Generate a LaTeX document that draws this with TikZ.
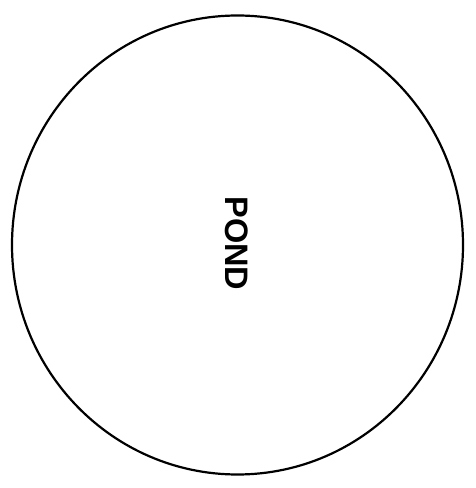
\documentclass[tikz,border=0pt]{standalone}
\usepackage{fontspec}
\setmainfont{Liberation Sans}
\usepackage{tikz}

\begin{document}
\begin{tikzpicture}[x=1pt, y=1pt]
	\def\W{476}
	\def\H{488}
	\def\rx{225.5}
	\def\ry{229.5}

	\useasboundingbox (0,0) rectangle (\W, \H);

	% pond outline
	\draw[black, line width=2.2pt] (237.5, 243) ellipse [x radius=\rx, y radius=\ry];

	% label, turned to read downwards
	\node[rotate=-90, font=\fontsize{32.5}{32.5}\selectfont\bfseries, inner sep=0pt] (pond) at (236.5, 244.5) {POND};

\end{tikzpicture}
\end{document}
